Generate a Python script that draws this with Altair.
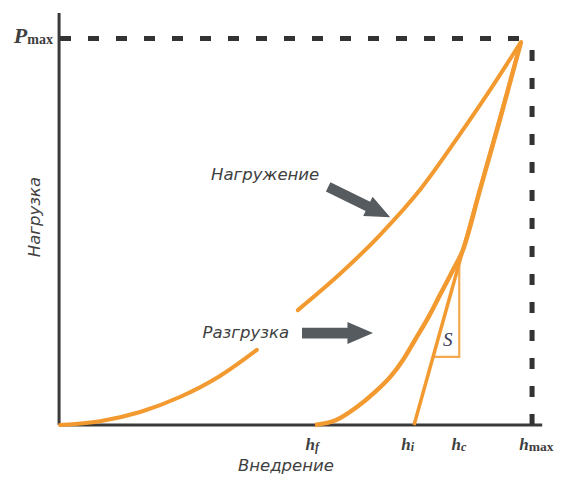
import altair as alt
import pandas as pd

# ---------------- data (h / hmax, P / Pmax) ----------------
load_h = [0.000, 0.087, 0.174, 0.260, 0.347, 0.427, 0.516, 0.607, 0.694, 0.781, 0.868, 0.933, 1.000]
load_P = [0.000, 0.010, 0.034, 0.073, 0.128, 0.196, 0.300, 0.394, 0.496, 0.614, 0.760, 0.875, 1.000]
load_seg = [1, 1, 1, 1, 1, 1, 2, 2, 2, 2, 2, 2, 2]

unload_h = [0.553, 0.599, 0.644, 0.683, 0.716, 0.744, 0.770, 0.798, 0.824, 0.850, 0.874, 0.911, 0.954, 1.000]
unload_P = [0.000, 0.013, 0.047, 0.086, 0.125, 0.170, 0.222, 0.279, 0.339, 0.399, 0.457, 0.614, 0.796, 1.000]

tangent_h = [0.768, 1.000]
tangent_P = [0.000, 1.000]

# stiffness triangle (bottom-left corner on tangent, right angle, top corner on tangent)
tri_h = [0.808, 0.866, 0.866]
tri_P = [0.178, 0.178, 0.420]

h_ticks = ["f", "i", "c", "max"]
h_tick_pos = [0.553, 0.761, 0.870, 1.017]

ORANGE = "#F29A30"
AXIS = "#3a3a3a"
TXT = "#404040"
ARROW = "#565b5f"

W, H = 547, 469
xs = alt.Scale(domain=[-52 / 461, 495 / 461])
ys = alt.Scale(domain=[-52 / 383, 417 / 383])


def X(f="h"):
    return alt.X(f"{f}:Q", scale=xs, axis=None)


def Y(f="P"):
    return alt.Y(f"{f}:Q", scale=ys, axis=None)


load_df = pd.DataFrame({"h": load_h, "P": load_P, "seg": load_seg})
unload_df = pd.DataFrame({"h": unload_h, "P": unload_P})
tan_df = pd.DataFrame({"h": tangent_h, "P": tangent_P})
tri_df = pd.DataFrame({"h": tri_h, "P": tri_P, "o": [0, 1, 2]})

loading = alt.Chart(load_df).mark_line(color=ORANGE, strokeWidth=4, interpolate="monotone", strokeCap="round").encode(
    x=X(), y=Y(), detail="seg:N")
unloading = alt.Chart(unload_df).mark_line(color=ORANGE, strokeWidth=4.5, interpolate="monotone").encode(
    x=X(), y=Y())
tangent = alt.Chart(tan_df).mark_line(color=ORANGE, strokeWidth=3.5).encode(x=X(), y=Y())
triangle = alt.Chart(tri_df).mark_line(color=ORANGE, strokeWidth=2.2, opacity=0.85).encode(
    x=X(), y=Y(), order="o:Q")

# axes lines
axes_df = pd.DataFrame({"h": [-0.002, -0.002], "h2": [-0.002, 1.046], "P": [0.0, 0.0], "P2": [1.076, 0.0]})
axes = alt.Chart(axes_df).mark_rule(color=AXIS, strokeWidth=3).encode(
    x=X(), x2="h2:Q", y=Y(), y2="P2:Q")

# dashed max lines
dash_df = pd.DataFrame({"h": [0.0, 1.024], "h2": [1.024, 1.024], "P": [1.009, 0.0], "P2": [1.009, 1.009]})
dashes = alt.Chart(dash_df).mark_rule(color="#333333", strokeWidth=5, strokeDash=[11, 17]).encode(
    x=X(), x2="h2:Q", y=Y(), y2="P2:Q")

# arrows
arr_df = pd.DataFrame({"h": [0.649, 0.602], "P": [0.582, 0.240], "ang": [26, 0], "sz": [4761, 5041]})
arrow_path = "M-1,-0.15L0.28,-0.15L0.28,-0.31L1,0L0.28,0.31L0.28,0.15L-1,0.15Z"
arrows = alt.Chart(arr_df).mark_point(shape=arrow_path, filled=True, color=ARROW, opacity=1, strokeWidth=0).encode(
    x=X(), y=Y(), angle=alt.Angle("ang:Q", scale=None), size=alt.Size("sz:Q", scale=None))

# words
words_df = pd.DataFrame({
    "h": [0.445, 0.403, 0.490],
    "P": [0.653, 0.240, -0.107],
    "t": ["Нагружение", "Разгрузка", "Внедрение"],
})
words = alt.Chart(words_df).mark_text(font="DejaVu Sans", fontStyle="italic", fontSize=16.5, color=TXT).encode(
    x=X(), y=Y(), text="t:N")
ylab = alt.Chart(pd.DataFrame({"h": [-0.054], "P": [0.543], "t": ["Нагрузка"]})).mark_text(
    font="DejaVu Sans", fontStyle="italic", fontSize=16.5, color=TXT, angle=270).encode(x=X(), y=Y(), text="t:N")

# h labels
hdf = pd.DataFrame({"h": h_tick_pos, "P": [-0.065] * 4, "s": h_ticks,
                    "fs": [12, 12, 12, 13.5], "st": ["italic", "italic", "italic", "normal"]})
h_main = alt.Chart(hdf).mark_text(font="Liberation Serif", fontStyle="italic", fontWeight="bold", fontSize=17,
                                  color=TXT, align="right", baseline="alphabetic").encode(
    x=X(), y=Y(), text=alt.value("h"))
h_sub_it = alt.Chart(hdf.iloc[:3]).mark_text(font="Liberation Serif", fontStyle="italic", fontWeight="bold", fontSize=12,
                                             color=TXT, align="left", baseline="alphabetic", dy=1).encode(
    x=X(), y=Y(), text="s:N")
h_sub_max = alt.Chart(hdf.iloc[3:]).mark_text(font="Liberation Serif", fontWeight="bold", fontSize=13.5,
                                              color=TXT, align="left", baseline="alphabetic", dy=1).encode(
    x=X(), y=Y(), text="s:N")

# P max label
pdf = pd.DataFrame({"h": [-0.071], "P": [0.997]})
p_main = alt.Chart(pdf).mark_text(font="Liberation Serif", fontStyle="italic", fontWeight="bold", fontSize=22,
                                  color=TXT, align="right", baseline="alphabetic").encode(x=X(), y=Y(), text=alt.value("P"))
p_sub = alt.Chart(pdf).mark_text(font="Liberation Serif", fontWeight="bold", fontSize=14,
                                 color=TXT, align="left", baseline="alphabetic", dy=1).encode(x=X(), y=Y(), text=alt.value("max"))

# S label
s_lab = alt.Chart(pd.DataFrame({"h": [0.841], "P": [0.222]})).mark_text(
    font="Liberation Serif", fontStyle="italic", fontSize=19, color="#3a3a55").encode(x=X(), y=Y(), text=alt.value("S"))

chart = alt.layer(
    axes, dashes, loading, unloading, tangent, triangle, arrows, words, ylab,
    h_main, h_sub_it, h_sub_max, p_main, p_sub, s_lab
).properties(
    width=W, height=H, padding=0, autosize=alt.AutoSizeParams(type="none"), background="white"
).configure_view(strokeWidth=0)

chart.save("out.html", embed_options={"renderer": "svg", "actions": False})
